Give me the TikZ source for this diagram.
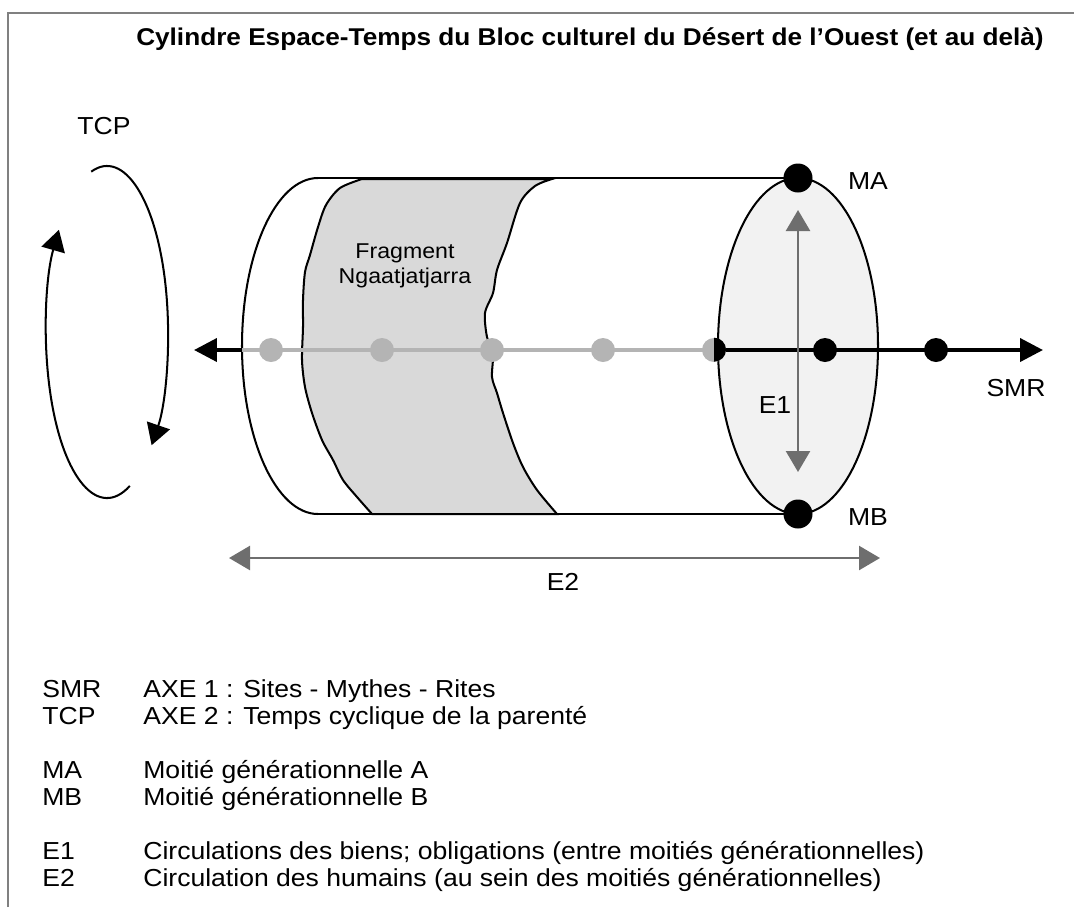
\documentclass[tikz,border=0pt]{standalone}
\usepackage{fontspec}
\setmainfont{Liberation Sans}[FakeStretch=1.08]
\usetikzlibrary{arrows.meta,calc}
\definecolor{framegrey}{RGB}{128,128,128}
\definecolor{axisgrey}{RGB}{180,180,180}
\definecolor{fraggrey}{RGB}{217,217,217}
\definecolor{flowgrey}{RGB}{110,110,110}
\definecolor{facegrey}{RGB}{242,242,242}
\tikzset{
  >={Triangle[length=4.2mm,width=4.8mm]},
  rim/.style={line width=1.15pt,draw=black},
  axisline/.style={line width=2.3pt,draw=#1},
  axisline/.default=black,
  flow/.style={<->,line width=1.4pt,draw=flowgrey,
    >={Triangle[length=4.2mm,width=4.8mm]}},
  dot/.style={circle,fill=#1,inner sep=0pt,minimum size=4.8mm},
  dot/.default=black,
  bigdot/.style={circle,fill=black,inner sep=0pt,minimum size=5.8mm},
  tag/.style={font=\fontsize{14}{16.5}\selectfont,inner sep=0pt},
}

\begin{document}
\begin{tikzpicture}[x=0.02cm,y=-0.02cm]
  \useasboundingbox (0,0) rectangle (1074,907);
  \draw[framegrey,line width=1pt] (8,907) -- (8,13) -- (1074,13);
  \node[font=\fontsize{13.8}{16}\selectfont\bfseries,inner sep=0pt] (title) at (590,39)
    {Cylindre Espace-Temps du Bloc culturel du Désert de l’Ouest (et au delà)};

  % TCP : cycle of kinship time
  \coordinate (tcp) at (107,332);
  \node[tag] (tcplab) at (104,126) {TCP};
  \draw[rim,->] (tcp) ++(255:61 and 166)
    arc[start angle=255,end angle=403,x radius=61,y radius=166];
  \draw[rim,->] (tcp) ++(68:61 and 166)
    arc[start angle=68,end angle=218,x radius=61,y radius=166];

  % fragment
  \draw[rim,fill=fraggrey] plot[smooth] coordinates {(362,179) (340,188) (326,205)
    (318,227) (310,255) (305,272) (303,300) (303,327) (302,360) (305,387) (312,413)
    (322,440) (333,460) (343,480) (357,497) (372,514)}
    -- (557,514) -- plot[smooth] coordinates {(557,514) (537,490) (523,467) (513,443)
    (503,413) (497,393) (492,377) (493,353) (487,337) (485,313) (493,293) (497,270)
    (507,243) (520,203) (535,186) (552,179)} -- cycle;
  \node[font=\fontsize{12.2}{14.2}\selectfont,align=center,inner sep=0pt] (frag) at (405,266)
    {Fragment\\Ngaatjatjarra};

  % cylinder
  \coordinate (lt) at (318,178);
  \coordinate (lb) at (318,514);
  \coordinate (rt) at (798,178);
  \coordinate (rb) at (798,514);
  \draw[rim] (lt) arc[start angle=270,end angle=90,x radius=76,y radius=168];
  \draw[rim] (lt) -- (rt);
  \draw[rim] (lb) -- (rb);
  \draw[rim,fill=facegrey] (798,346) ellipse [x radius=80,y radius=168];

  % SMR axis
  \coordinate (axL) at (194,350);
  \coordinate (axR) at (1043,350);
  \coordinate (cylL) at (242,350);
  \foreach \x [count=\i] in {271,382,492,603,714,825,936}
    \coordinate (p\i) at (\x,350);
  \draw[axisline,->,>={Triangle[length=4.6mm,width=4.6mm]}] (cylL) -- (axL);
  \draw[axisline=axisgrey] (cylL) -- (p5);
  \draw[axisline,->,>={Triangle[length=4.6mm,width=4.6mm]}] (p5) -- (axR);
  \foreach \i in {1,...,5}
    \node[dot=axisgrey] (d\i) at (p\i) {};
  \fill (d5.north) arc[start angle=90,end angle=-90,radius=2.4mm] -- cycle;
  \node[dot] (d6) at (p6) {};
  \node[dot] (d7) at (p7) {};
  \node[tag] (smr) at (1016,388) {SMR};

  % generational moieties
  \node[bigdot] (ma) at (rt) {};
  \node[bigdot] (mb) at (rb) {};
  \node[tag] (malab) at (868,181) {MA};
  \node[tag] (mblab) at (868,517) {MB};
  \coordinate (e1top) at (798,210);
  \coordinate (e1bot) at (798,472);
  \draw[flow] (e1top) -- (e1bot);
  \node[tag] (e1) at (775,405) {E1};

  \coordinate (e2L) at (229,558);
  \coordinate (e2R) at (880,558);
  \draw[flow] (e2L) -- (e2R);
  \node[tag] (e2) at (563,582) {E2};

  % legend
  \foreach \y/\k/\t [count=\i] in {697/SMR/{AXE 1 : Sites - Mythes - Rites},
      724/TCP/{AXE 2 : Temps cyclique de la parenté},
      778/MA/{Moitié générationnelle A},
      805/MB/{Moitié générationnelle B},
      859/E1/{Circulations des biens; obligations (entre moitiés générationnelles)},
      886/E2/{Circulation des humains (au sein des moitiés générationnelles)}}{
    \node[tag,anchor=base west] (k\i) at (42,\y) {\k};
    \node[tag,anchor=base west] (t\i) at (143,\y) {\t};
  }
\end{tikzpicture}
\end{document}
